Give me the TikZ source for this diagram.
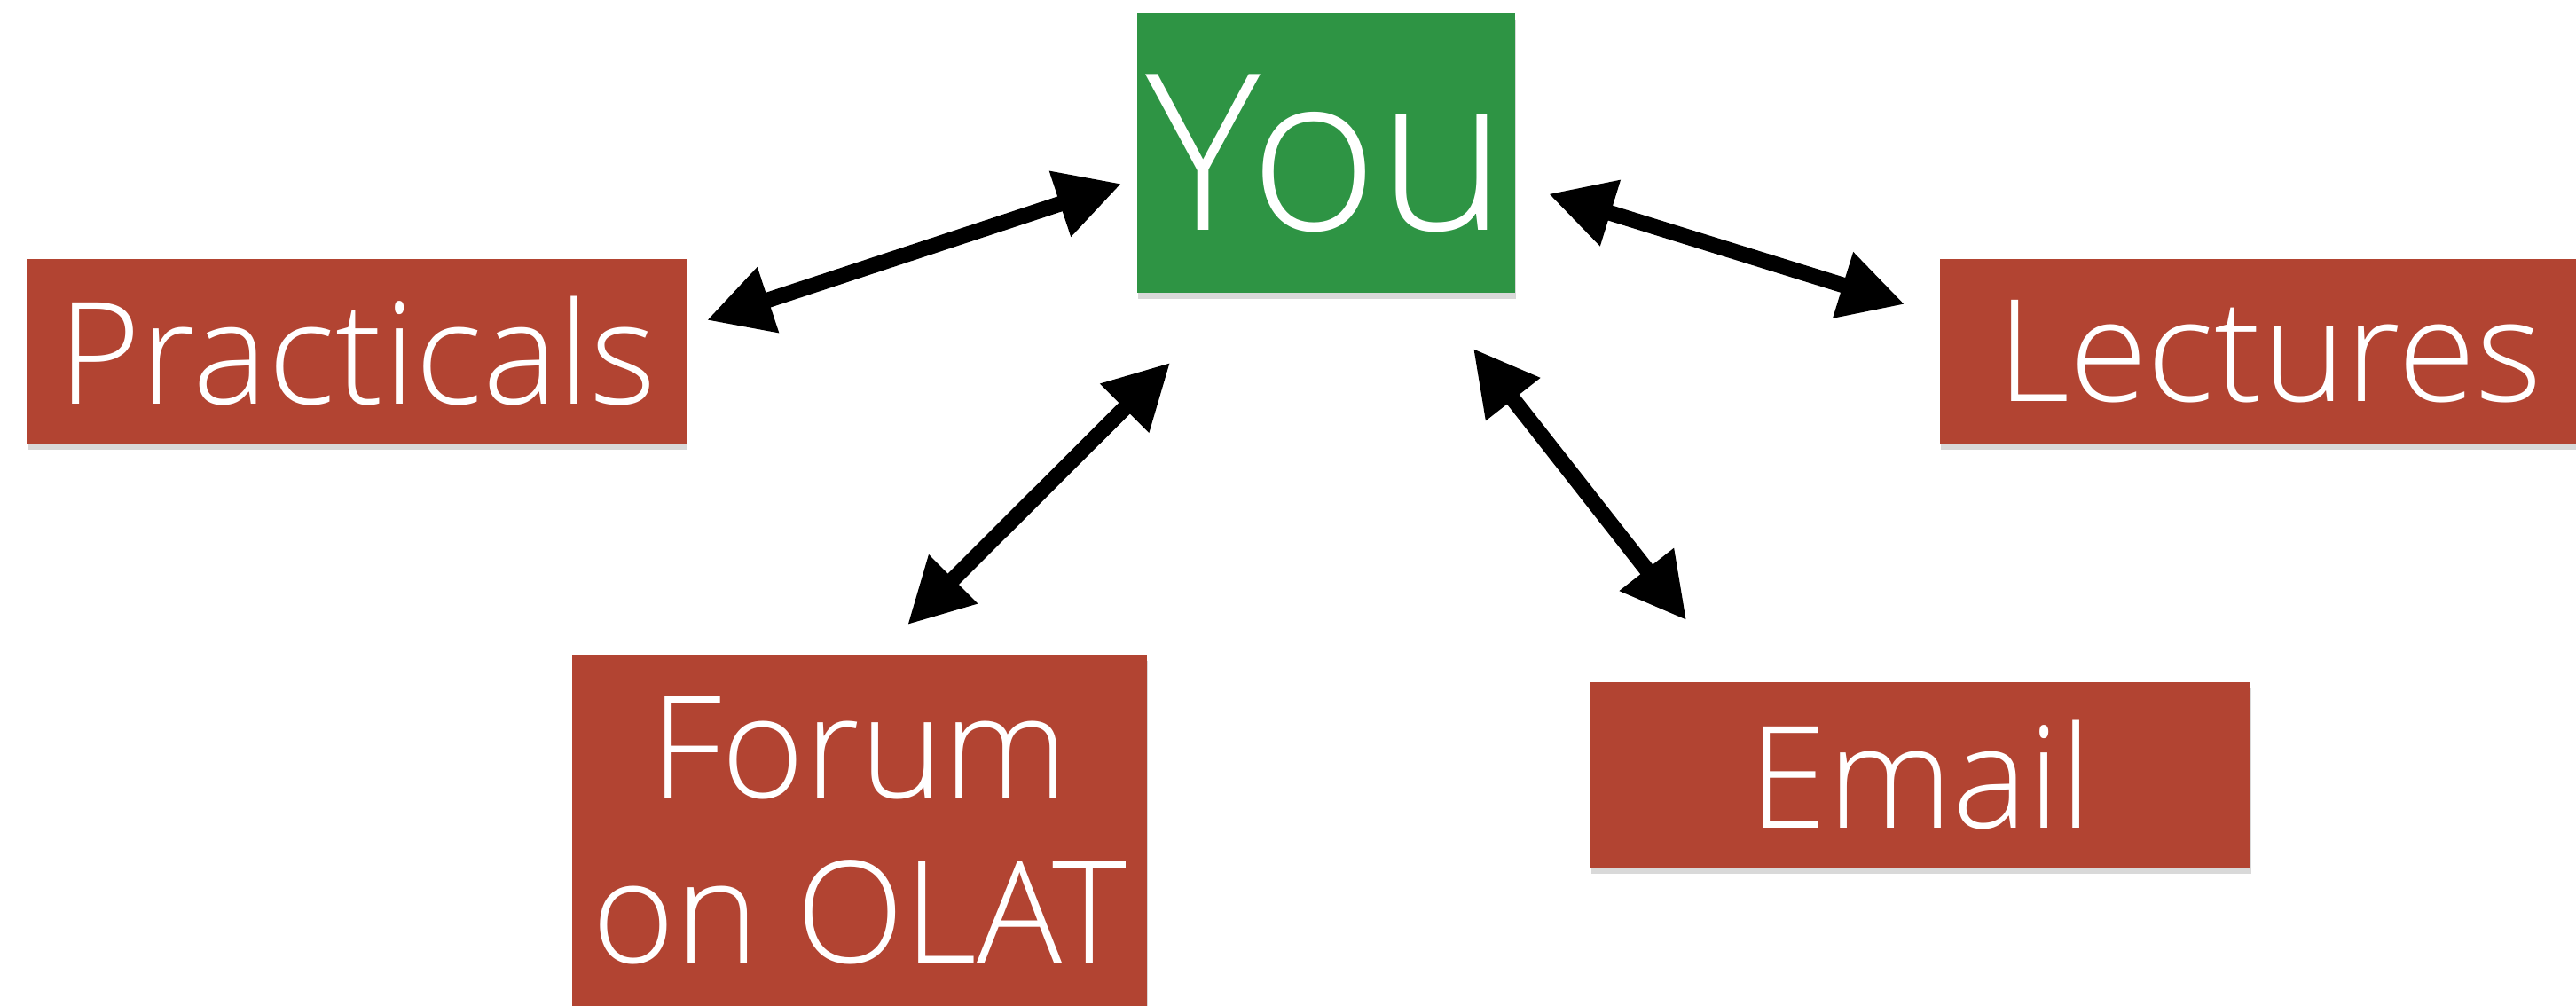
\documentclass[tikz,border=0pt]{standalone}
\usepackage{fontspec}
\setmainfont{Open Sans Light}
\usetikzlibrary{positioning, arrows.meta, shadows}

\definecolor{youGreen}{RGB}{46,148,68}
\definecolor{chanRed}{RGB}{178,68,50}

\begin{document}
\begin{tikzpicture}[
  % --- Style definitions ---
  hub/.style={rectangle, inner sep=0pt, minimum width=4.26cm, minimum height=3.15cm,
              fill=youGreen, text=white, font=\fontsize{70}{84}\selectfont,
              drop shadow={shadow xshift=0.4pt, shadow yshift=-2pt, opacity=0.3}},
  chan/.style={rectangle, inner sep=0pt, minimum width=7.43cm, minimum height=2.08cm,
               fill=chanRed, text=white, align=center, font=\fontsize{45.5}{53}\selectfont,
               drop shadow={shadow xshift=0.4pt, shadow yshift=-2pt, opacity=0.3}},
  arr/.style={{Triangle[length=7.3mm, width=7.3mm]}-{Triangle[length=7.3mm, width=7.3mm]},
              line width=5pt, color=black},
]
\useasboundingbox (0,0) rectangle (29.04,11.33);

% ===== Nodes =====

% --- Centre: You ---
\node[hub] (you) at (14.95,9.605) {You};

% --- Upper row: Practicals and Lectures ---
\node[chan] (prac) at (4.025,7.37) {Practicals};
\node[chan] (lect) at (25.585,7.37) {Lectures};

% --- Lower row: Forum and Email ---
\node[chan, minimum width=6.48cm, minimum height=3.96cm] (forum) at (9.69,1.97) {Forum\\on OLAT};
\node[chan, minimum width=7.44cm, minimum height=2.09cm] (email) at (21.65,2.595) {Email};

% ===== Arrows =====
\draw[arr] ([shift={(0.22,0.35)}]prac.east) -- ([shift={(-0.17,-0.345)}]you.west);
\draw[arr] ([shift={(0.37,-0.46)}]you.east) -- ([shift={(-0.39,0.53)}]lect.west);
\draw[arr] ([shift={(0.38,-0.78)}]you.south west) -- ([shift={(0.54,0.33)}]forum.north);
\draw[arr] ([shift={(-0.48,-0.62)}]you.south east) -- ([shift={(1.09,0.69)}]email.north west);

\end{tikzpicture}
\end{document}
